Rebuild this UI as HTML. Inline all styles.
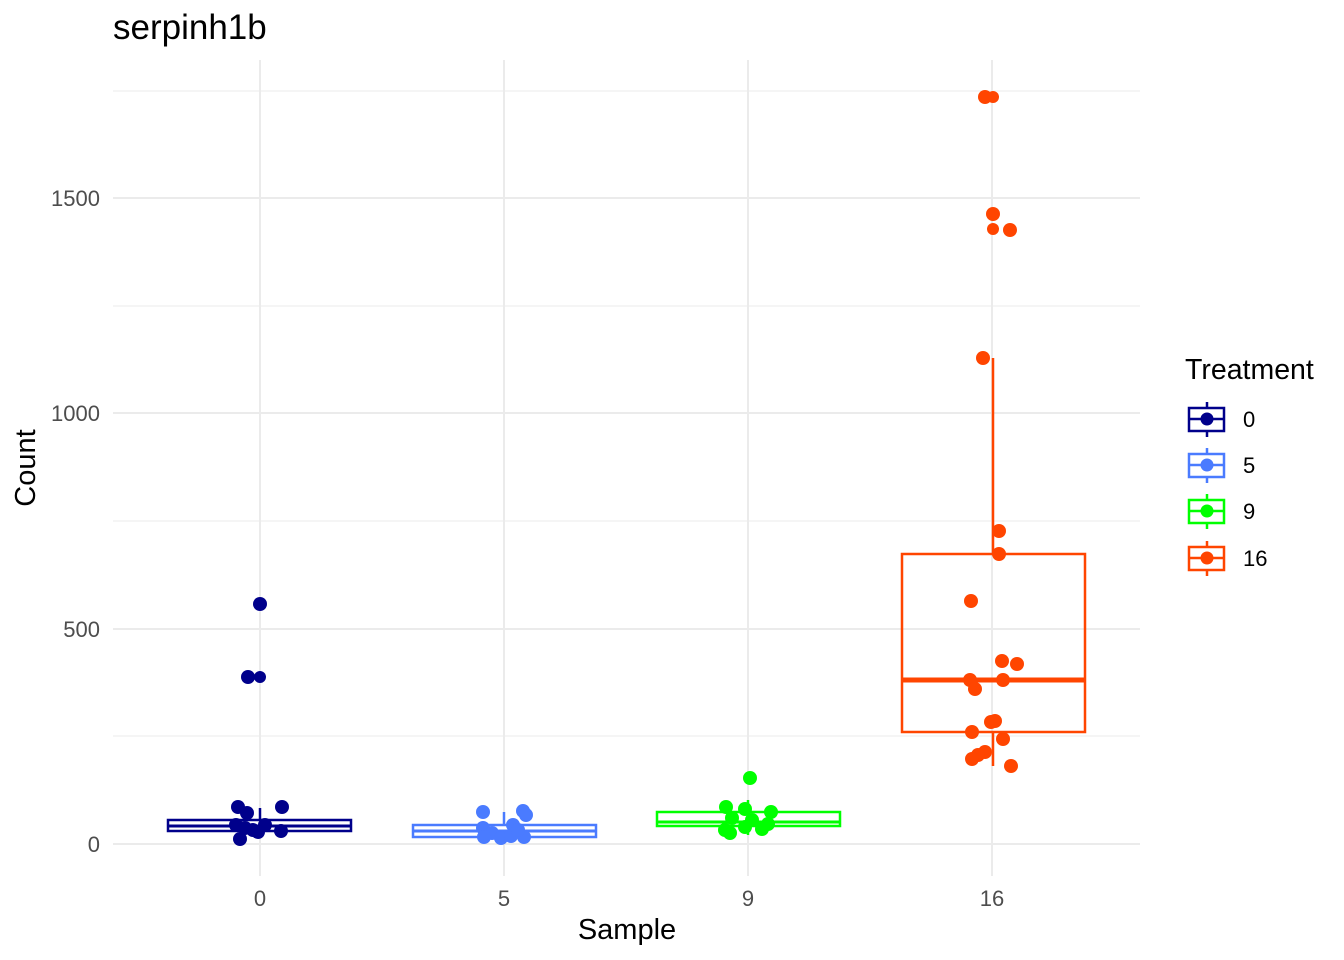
<!DOCTYPE html><html><head><style>body{margin:0;background:#fff}svg{display:block}text{font-family:"Liberation Sans",sans-serif}</style></head><body>
<svg width="1344" height="960" xmlns="http://www.w3.org/2000/svg">
<g stroke="#ebebeb" stroke-width="1"><line x1="113" x2="1140" y1="736" y2="736"/><line x1="113" x2="1140" y1="521" y2="521"/><line x1="113" x2="1140" y1="306" y2="306"/><line x1="113" x2="1140" y1="91" y2="91"/></g>
<g stroke="#ebebeb" stroke-width="2"><line x1="113" x2="1140" y1="844" y2="844"/><line x1="113" x2="1140" y1="629" y2="629"/><line x1="113" x2="1140" y1="413" y2="413"/><line x1="113" x2="1140" y1="198" y2="198"/>
<line x1="260" x2="260" y1="60" y2="876"/><line x1="504" x2="504" y1="60" y2="876"/><line x1="748" x2="748" y1="60" y2="876"/><line x1="992" x2="992" y1="60" y2="876"/></g>
<g font-size="22" fill="#4d4d4d" text-anchor="end"><text x="100" y="852">0</text><text x="100" y="637">500</text><text x="100" y="421">1000</text><text x="100" y="206">1500</text></g>
<g font-size="22" fill="#4d4d4d" text-anchor="middle"><text x="260" y="906">0</text><text x="504" y="906">5</text><text x="748" y="906">9</text><text x="992" y="906">16</text></g>
<text x="627" y="939" font-size="29" text-anchor="middle">Sample</text>
<text transform="translate(35,468) rotate(-90)" font-size="29" text-anchor="middle">Count</text>
<text x="113" y="39" font-size="35">serpinh1b</text>
<g fill="none" stroke-width="2.5">
<g stroke="#00008b"><line x1="260" x2="260" y1="808" y2="838"/><rect x="168" y="820" width="183" height="11" fill="#fff"/><line x1="168" x2="351" y1="826" y2="826" stroke-width="3"/></g>
<g stroke="#4a7bff"><line x1="504" x2="504" y1="812" y2="842"/><rect x="413" y="825" width="183" height="12" fill="#fff"/><line x1="413" x2="596" y1="831" y2="831" stroke-width="3"/></g>
<g stroke="#00ff00"><line x1="748" x2="748" y1="800" y2="835"/><rect x="657" y="812" width="183" height="14" fill="#fff"/><line x1="657" x2="840" y1="822" y2="822" stroke-width="3"/></g>
<g stroke="#ff4500"><line x1="993" x2="993" y1="358" y2="554"/><line x1="993" x2="993" y1="732" y2="766"/><rect x="902" y="554" width="183" height="178"/><line x1="902" x2="1085" y1="680" y2="680" stroke-width="5"/></g>
</g>
<g fill="#00008b"><circle cx="260" cy="604" r="7"/><circle cx="248" cy="677" r="7"/><circle cx="260" cy="677" r="6"/><circle cx="238" cy="807" r="7"/><circle cx="282" cy="807" r="7"/><circle cx="247" cy="813" r="7"/><circle cx="236" cy="825" r="7"/><circle cx="253" cy="830" r="7"/><circle cx="265" cy="825" r="7"/><circle cx="258" cy="832" r="7"/><circle cx="281" cy="831" r="7"/><circle cx="240" cy="839" r="7"/><circle cx="245" cy="828" r="7"/></g>
<g fill="#4a7bff"><circle cx="483" cy="812" r="7"/><circle cx="523" cy="811" r="7"/><circle cx="526" cy="815" r="7"/><circle cx="513" cy="825" r="7"/><circle cx="483" cy="828" r="7"/><circle cx="492" cy="833" r="7"/><circle cx="501" cy="838" r="7"/><circle cx="511" cy="836" r="7"/><circle cx="524" cy="837" r="7"/><circle cx="484" cy="837" r="7"/><circle cx="518" cy="830" r="7"/></g>
<g fill="#00ff00"><circle cx="750" cy="778" r="7"/><circle cx="726" cy="807" r="7"/><circle cx="745" cy="809" r="7"/><circle cx="771" cy="812" r="7"/><circle cx="732" cy="818" r="7"/><circle cx="752" cy="820" r="7"/><circle cx="768" cy="824" r="7"/><circle cx="745" cy="827" r="7"/><circle cx="725" cy="830" r="7"/><circle cx="730" cy="833" r="7"/><circle cx="762" cy="829" r="7"/></g>
<g fill="#ff4500"><circle cx="985" cy="97" r="7"/><circle cx="993" cy="97" r="6"/><circle cx="993" cy="214" r="7"/><circle cx="993" cy="229" r="6"/><circle cx="1010" cy="230" r="7"/><circle cx="983" cy="358" r="7"/><circle cx="999" cy="531" r="7"/><circle cx="999" cy="554" r="7"/><circle cx="971" cy="601" r="7"/><circle cx="1002" cy="661" r="7"/><circle cx="1017" cy="664" r="7"/><circle cx="970" cy="680" r="7"/><circle cx="1003" cy="680" r="7"/><circle cx="975" cy="689" r="7"/><circle cx="991" cy="722" r="7"/><circle cx="995" cy="721" r="7"/><circle cx="972" cy="732" r="7"/><circle cx="1003" cy="739" r="7"/><circle cx="985" cy="752" r="7"/><circle cx="978" cy="755" r="7"/><circle cx="972" cy="759" r="7"/><circle cx="1011" cy="766" r="7"/></g>
<text x="1185" y="379" font-size="28.5">Treatment</text>
<g stroke-width="2.5" fill="none">
<g stroke="#00008b"><line x1="1207" x2="1207" y1="402" y2="437"/><rect x="1189" y="408" width="35" height="23" fill="#fff"/><line x1="1189" x2="1224" y1="419" y2="419"/><circle cx="1207" cy="419" r="6.5" fill="#00008b" stroke="none"/></g>
<g stroke="#4a7bff"><line x1="1207" x2="1207" y1="448" y2="483"/><rect x="1189" y="454" width="35" height="23" fill="#fff"/><line x1="1189" x2="1224" y1="465" y2="465"/><circle cx="1207" cy="465" r="6.5" fill="#4a7bff" stroke="none"/></g>
<g stroke="#00ff00"><line x1="1207" x2="1207" y1="494" y2="529"/><rect x="1189" y="500" width="35" height="23" fill="#fff"/><line x1="1189" x2="1224" y1="511" y2="511"/><circle cx="1207" cy="511" r="6.5" fill="#00ff00" stroke="none"/></g>
<g stroke="#ff4500"><line x1="1207" x2="1207" y1="541" y2="576"/><rect x="1189" y="547" width="35" height="23" fill="#fff"/><line x1="1189" x2="1224" y1="558" y2="558"/><circle cx="1207" cy="558" r="6.5" fill="#ff4500" stroke="none"/></g>
</g>
<g font-size="22"><text x="1243" y="427">0</text><text x="1243" y="473">5</text><text x="1243" y="519">9</text><text x="1243" y="566">16</text></g>
</svg></body></html>
